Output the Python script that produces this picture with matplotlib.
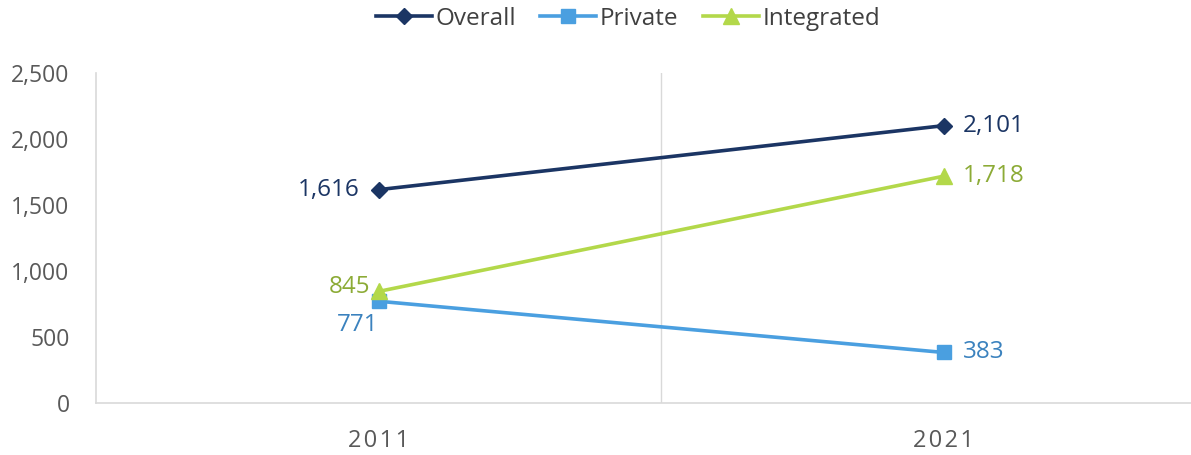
import matplotlib
matplotlib.use("Agg")
import matplotlib.pyplot as plt
from matplotlib.ticker import FuncFormatter

years = ["2011", "2021"]
overall = [1616, 2101]
private = [771, 383]
integrated = [845, 1718]

plt.rcParams['font.family'] = ['Open Sans', 'DejaVu Sans']

fig = plt.figure(figsize=(11.91, 4.55), dpi=100)
W, H = 1191, 455
left_px, right_px = 96, 1226
top_px, bot_px = 73, 403
ax = fig.add_axes([left_px / W, 1 - bot_px / H, (right_px - left_px) / W, (bot_px - top_px) / H])

x = list(range(len(years)))
c_over, c_priv, c_int = "#1B3564", "#4A9FE0", "#B3D84A"
l_over, l_priv, l_int = "#1B3564", "#3B82BE", "#8CAB36"

ax.plot(x, overall, color=c_over, lw=2.6, marker="D", ms=8.5, label="Overall", zorder=3)
ax.plot(x, private, color=c_priv, lw=2.6, marker="s", ms=10, label="Private", zorder=3)
ax.plot(x, integrated, color=c_int, lw=2.6, marker="^", ms=11, label="Integrated", zorder=4)

ax.set_xlim(-0.5, 1.5)
ax.set_ylim(0, 2500)
ax.set_yticks(range(0, 2501, 500))
ax.yaxis.set_major_formatter(FuncFormatter(lambda v, p: f"{int(v):,}"))
ax.set_xticks(x)
ax.set_xticklabels(["\u200a".join(y) for y in years], fontsize=17)
ax.tick_params(axis="both", length=0, labelcolor="#595959")
ax.tick_params(axis="y", labelsize=16.5, pad=19)
ax.tick_params(axis="x", pad=19)

for s in ["top", "right"]:
    ax.spines[s].set_visible(False)
for s in ["left", "bottom"]:
    ax.spines[s].set_color("#D9D9D9")
    ax.spines[s].set_linewidth(1.2)
ax.axvline(0.5, color="#D9D9D9", lw=1.0, zorder=1)

fs = 17.5
def fmt(v):
    return f"{v:,}"

ax.annotate(fmt(overall[0]), (0, overall[0]), xytext=(-14, 0), textcoords="offset points",
            ha="right", va="center", color=l_over, fontsize=fs)
ax.annotate(fmt(overall[1]), (1, overall[1]), xytext=(14, 0), textcoords="offset points",
            ha="left", va="center", color=l_over, fontsize=fs)
ax.annotate(fmt(integrated[0]), (0, integrated[0]), xytext=(-6, 3), textcoords="offset points",
            ha="right", va="center", color=l_int, fontsize=fs)
ax.annotate(fmt(integrated[1]), (1, integrated[1]), xytext=(14, 0), textcoords="offset points",
            ha="left", va="center", color=l_int, fontsize=fs)
ax.annotate(fmt(private[0]), (0, private[0]), xytext=(0, -17), textcoords="offset points",
            ha="right", va="center", color=l_priv, fontsize=fs)
ax.annotate(fmt(private[1]), (1, private[1]), xytext=(14, 0), textcoords="offset points",
            ha="left", va="center", color=l_priv, fontsize=fs)

leg = fig.legend(loc="center", bbox_to_anchor=(628 / W, 1 - 19 / H), ncol=3, frameon=False,
                 fontsize=17.5, handlelength=2.3, columnspacing=1.0, handletextpad=0.15,
                 labelcolor="#404040")

fig.savefig("out.png", dpi=100)
